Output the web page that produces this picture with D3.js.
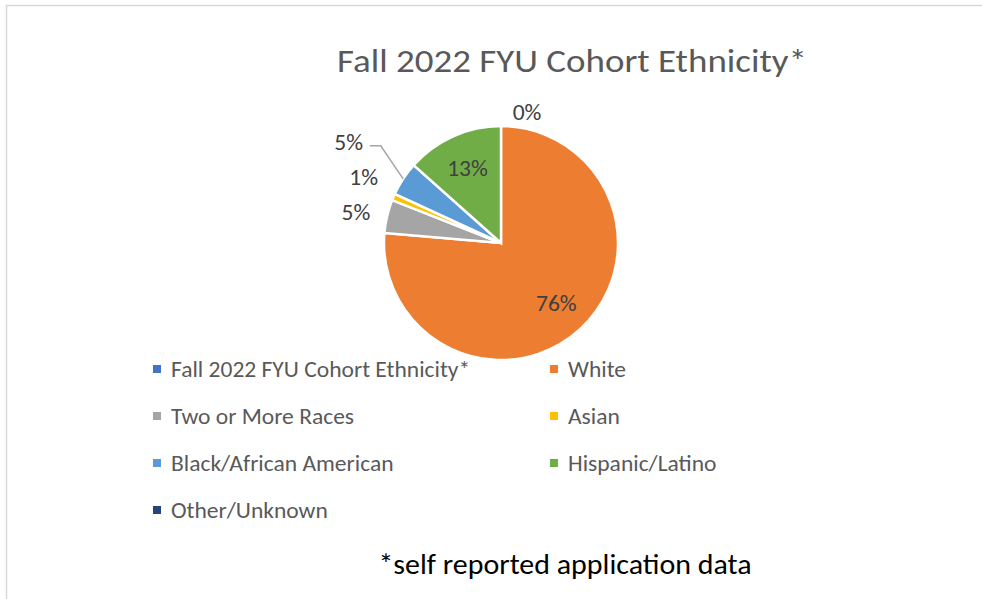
<!DOCTYPE html>
<html><head><meta charset="utf-8">
<script src="https://cdn.jsdelivr.net/npm/d3@7"></script>
<style>body{margin:0;background:#fff}svg{display:block}</style>
</head><body>
<svg id="c" width="982" height="599"></svg>
<script>
const categories = ["Fall 2022 FYU Cohort Ethnicity*","White","Two or More Races","Asian","Black/African American","Hispanic/Latino","Other/Unknown"];
const values = [0, 76.3, 4.6, 0.9, 4.7, 13.4, null];
const colors = ["#4472C4","#ED7D31","#A5A5A5","#FFC000","#5B9BD5","#70AD47","#264478"];
const titleText = "Fall 2022 FYU Cohort Ethnicity*";
const footText = "*self reported application data";

const svg = d3.select("#c");
const font = "Carlito, Calibri, 'Open Sans', sans-serif";
svg.append("rect").attr("x",6.5).attr("y",5.5).attr("width",1200).attr("height",1200)
  .attr("fill","#fff").attr("stroke","#d9d9d9").attr("stroke-width",1.5);

function stext(parent, x, y, sx, txt, size, fill, anchor, baseline) {
  return parent.append("text")
    .attr("transform", `translate(${x},${y}) scale(${sx},1)`)
    .attr("text-anchor", anchor || "start")
    .attr("dominant-baseline", baseline || "auto")
    .attr("font-family", font).attr("font-size", size).attr("fill", fill).text(txt);
}

stext(svg, 572, 72, 1.12, titleText, 33, "#595959", "middle");

const cx = 501, cy = 243, R = 117;
const data = categories.map((c,i)=>({cat:c, v: values[i], color: colors[i], i}));
const total = d3.sum(values);
const pie = d3.pie().value(d=>d.v||0).sort(null);
const arcs = pie(data);
const arc = d3.arc().innerRadius(0).outerRadius(R);
const g = svg.append("g").attr("transform",`translate(${cx},${cy})`);
g.selectAll("path").data(arcs.filter(a=>a.data.v>0)).join("path")
  .attr("d",arc).attr("fill",d=>d.data.color).attr("stroke","#fff").attr("stroke-width",2.5)
  .attr("stroke-linejoin","miter");

const fmt = d3.format(".0%");
const labelArcs = arcs.filter(a=>a.data.v!==null);
const inside = d3.arc().innerRadius(R*0.7).outerRadius(R*0.7);
let prevY = null;
labelArcs.forEach(a=>{
  const txt = fmt(a.data.v/total);
  const mid = (a.startAngle+a.endAngle)/2;
  let x, y, leader=null;
  if (a.data.v/total > 0.1) {
    [x,y] = inside.centroid(a);
  } else if (a.data.v === 0) {
    x = 26; y = -R - 14;
  } else {
    const lr = R + 28;
    x = Math.sin(mid)*lr - 4; y = -Math.cos(mid)*lr + 2;
    if (prevY !== null && y > prevY - 35) {
      const shift = y - (prevY - 35);
      y = prevY - 35;
      if (shift > 15) {
        x = x - 27;
        leader = {x0: x + 21, y0: y + 4, x1: x + 32, ex: Math.sin(mid)*R, ey: -Math.cos(mid)*R};
      }
    }
    prevY = y;
  }
  if (leader) {
    g.append("polyline").attr("points",`${leader.x0},${leader.y0} ${leader.x1},${leader.y0} ${leader.ex},${leader.ey}`)
      .attr("fill","none").attr("stroke","#a6a6a6").attr("stroke-width",1.5);
  }
  stext(g, x, y, 1.07, txt, 22, "#404040", "middle", "central");
});

const legX = [153, 550], legY0 = 369, legDY = 47;
const lg = svg.append("g");
data.forEach((d,i)=>{
  const col = i%2, row = Math.floor(i/2);
  const x = legX[col], y = legY0 + row*legDY;
  lg.append("rect").attr("x",x).attr("y",y-4).attr("width",8).attr("height",8).attr("fill",d.color);
  stext(lg, x+18, y, 1.07, d.cat, 22, "#595959", "start", "central");
});

stext(svg, 565, 574, 1.07, footText, 28, "#000", "middle");
</script>
</body></html>
